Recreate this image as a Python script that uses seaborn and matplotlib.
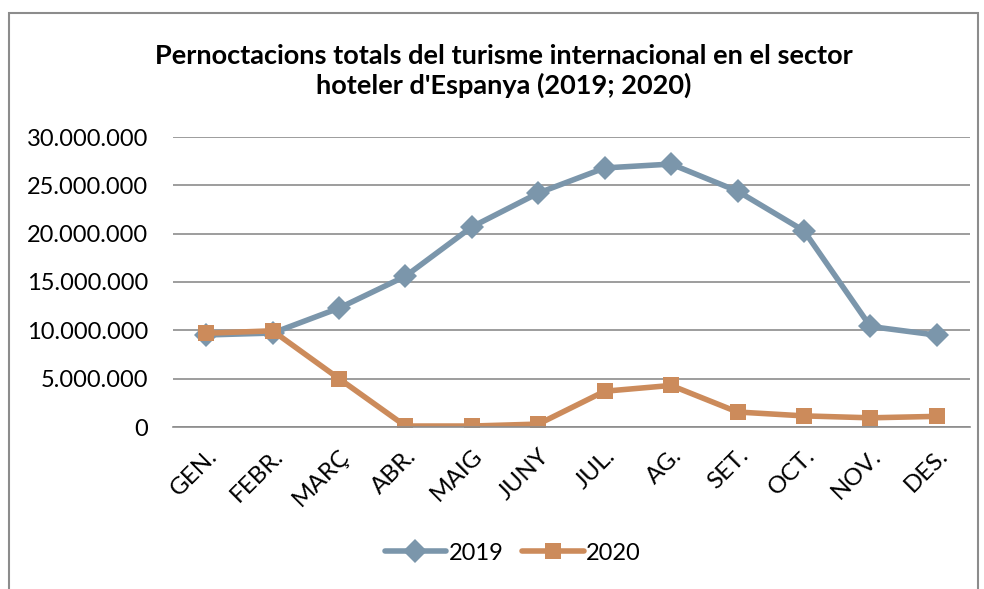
import matplotlib
matplotlib.use("Agg")
import matplotlib.pyplot as plt
import matplotlib.ticker as mticker
from matplotlib.lines import Line2D
import seaborn as sns
import pandas as pd

# dades llegides del gràfic original
mesos = ["GEN.", "FEBR.", "MARÇ", "ABR.", "MAIG", "JUNY", "JUL.", "AG.", "SET.", "OCT.", "NOV.", "DES."]
valors_2019 = [9.52e6, 9.72e6, 12.3e6, 15.6e6, 20.7e6, 24.2e6, 26.8e6, 27.2e6, 24.4e6, 20.3e6, 10.4e6, 9.5e6]
valors_2020 = [9.7e6, 9.95e6, 5.0e6, 0.1e6, 0.1e6, 0.3e6, 3.7e6, 4.3e6, 1.55e6, 1.15e6, 0.95e6, 1.1e6]
y_ticks = [0, 5e6, 10e6, 15e6, 20e6, 25e6, 30e6]

df = pd.DataFrame({
    "mes": mesos * 2,
    "x": list(range(len(mesos))) * 2,
    "valor": valors_2019 + valors_2020,
    "any": ["2019"] * len(mesos) + ["2020"] * len(mesos),
})

sns.set_style("white")
plt.rcParams["font.family"] = ["Lato", "DejaVu Sans"]
plt.rcParams["text.color"] = "black"
plt.rcParams["xtick.color"] = "black"
plt.rcParams["ytick.color"] = "black"

fig = plt.figure(figsize=(9.84, 5.89), dpi=100)
ax = fig.add_axes([173 / 984, 1 - 427 / 589, (970 - 173) / 984, 290 / 589])

colors = {"2019": "#7b96ab", "2020": "#cc8b5b"}
sns.lineplot(data=df, x="x", y="valor", hue="any", style="any",
             markers={"2019": "D", "2020": "s"}, dashes=False,
             palette=colors, linewidth=4, markersize=12, markeredgewidth=0,
             ax=ax, legend=False)

ax.set_xlim(-0.5, len(mesos) - 0.5)
ax.set_ylim(0, 30e6)
ax.set_yticks(y_ticks)
ax.yaxis.set_major_formatter(mticker.FuncFormatter(lambda v, p: "0" if v == 0 else f"{int(v):,}".replace(",", ".")))
ax.set_xticks(range(len(mesos)))
ax.set_xticklabels(mesos, rotation=45, ha="right", rotation_mode="anchor", fontsize=17.5)
ax.tick_params(axis="y", labelsize=17, length=0, pad=18)
ax.tick_params(axis="x", length=0, pad=13)
ax.set_xlabel("")
ax.set_ylabel("")
ax.grid(axis="y", color="#8c8c8c", linewidth=1.2)
ax.set_axisbelow(True)
for s in ["top", "right", "left"]:
    ax.spines[s].set_visible(False)
ax.spines["bottom"].set_color("#8c8c8c")
ax.spines["bottom"].set_linewidth(1.2)

fig.text(0.512, 1 - 71 / 589, "Pernoctacions totals del turisme internacional en el sector\nhoteler d'Espanya (2019; 2020)",
         ha="center", va="center", fontsize=19.5, fontweight="bold", linespacing=1.25)

# llegenda
handles = [Line2D([], [], color=colors["2019"], marker="D", linewidth=4, markersize=12, markeredgewidth=0),
           Line2D([], [], color=colors["2020"], marker="s", linewidth=4, markersize=12, markeredgewidth=0)]
fig.legend(handles, ["2019", "2020"], loc="center", bbox_to_anchor=(0.521, 1 - 553 / 589), ncol=2,
           frameon=False, fontsize=17, handlelength=2.6, handletextpad=0.1, columnspacing=0.8)

# marc exterior
fig.add_artist(plt.Rectangle((9 / 984, -0.05), (978 - 9) / 984, 1.05 - 13 / 589,
                             transform=fig.transFigure, fill=False, edgecolor="#8c8c8c", linewidth=1.5))

fig.savefig("out.png", dpi=100)
